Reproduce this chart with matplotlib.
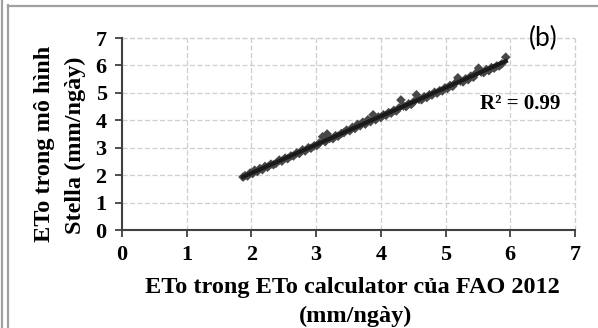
import matplotlib
matplotlib.use("Agg")
import matplotlib.pyplot as plt
from matplotlib.lines import Line2D
import numpy as np

# ETo values (mm/day)
eto_fao = [1.87, 1.90, 1.94, 1.98, 2.02, 2.05, 2.09, 2.13, 2.17, 2.21,
           2.25, 2.30, 2.34, 2.38, 2.43, 2.47, 2.52, 2.56, 2.61, 2.65,
           2.70, 2.74, 2.79, 2.83, 2.88, 2.92, 2.97, 3.01, 3.05, 3.10,
           3.14, 3.17, 3.21, 3.26, 3.30, 3.34, 3.39, 3.43, 3.47, 3.52,
           3.56, 3.60, 3.64, 3.68, 3.72, 3.76, 3.80, 3.84, 3.88, 3.92,
           3.96, 4.00, 4.04, 4.08, 4.12, 4.16, 4.20, 4.24, 4.28, 4.31,
           4.35, 4.39, 4.43, 4.47, 4.51, 4.55, 4.59, 4.63, 4.67, 4.71,
           4.75, 4.79, 4.83, 4.87, 4.91, 4.95, 4.99, 5.03, 5.07, 5.11,
           5.15, 5.19, 5.23, 5.27, 5.31, 5.35, 5.39, 5.43, 5.47, 5.51,
           5.55, 5.59, 5.63, 5.67, 5.71, 5.75, 5.79, 5.83, 5.87, 5.93]
eto_stella = [1.93, 1.98, 1.97, 2.08, 2.06, 2.18, 2.13, 2.24, 2.20, 2.32,
              2.29, 2.40, 2.38, 2.43, 2.55, 2.51, 2.62, 2.60, 2.70, 2.70,
              2.81, 2.79, 2.92, 2.88, 3.00, 2.98, 3.07, 3.08, 3.17, 3.40,
              3.22, 3.50, 3.34, 3.33, 3.44, 3.42, 3.52, 3.55, 3.64, 3.62,
              3.74, 3.70, 3.85, 3.80, 3.93, 3.86, 4.02, 3.95, 4.20, 4.02,
              4.12, 4.10, 4.20, 4.18, 4.28, 4.26, 4.36, 4.34, 4.45, 4.74,
              4.52, 4.50, 4.60, 4.58, 4.68, 4.93, 4.76, 4.75, 4.86, 4.83,
              4.93, 4.92, 5.02, 4.99, 5.08, 5.07, 5.18, 5.16, 5.27, 5.24,
              5.36, 5.55, 5.43, 5.40, 5.51, 5.48, 5.61, 5.57, 5.72, 5.90,
              5.76, 5.74, 5.85, 5.81, 5.92, 5.90, 5.98, 5.98, 6.06, 6.30]
r2_label = "R² = 0.99"
panel_label = "(b)"
xlabel_lines = ["ETo trong ETo calculator của FAO 2012", "(mm/ngày)"]
ylabel_lines = ["ETo trong mô hình", "Stella (mm/ngày)"]
ticks = [0, 1, 2, 3, 4, 5, 6, 7]

W, H = 598, 328
fig = plt.figure(figsize=(W / 100, H / 100), dpi=100)
ax = fig.add_axes([122 / W, 1 - 230 / H, (575 - 122) / W, (230 - 38) / H])

serif = dict(family="Liberation Serif", weight="bold")
dark = "#404040"

ax.scatter(eto_fao, eto_stella, marker="D", s=24, color="#484848",
           edgecolors="none", zorder=3)
x = np.array(eto_fao)
k, b = np.polyfit(x, np.array(eto_stella), 1)
xs = np.array([x.min(), x.max()])
ax.plot(xs, k * xs + b, color="#1a1a1a", lw=3, zorder=4)

ax.set_xlim(0, 7)
ax.set_ylim(0, 7)
ax.set_xticks(ticks)
ax.set_yticks(ticks)
ax.grid(True, color="#cfcfcf", ls=(0, (4, 2)), lw=0.9)
ax.set_axisbelow(True)
for s in ["top", "right"]:
    ax.spines[s].set_visible(False)
for s in ["left", "bottom"]:
    ax.spines[s].set_color(dark)
    ax.spines[s].set_linewidth(1.5)
ax.tick_params(length=5, width=1.3, color=dark, pad=6, labelsize=16)
for lab in ax.get_xticklabels() + ax.get_yticklabels():
    lab.set_fontfamily("Liberation Serif")
    lab.set_fontweight("bold")
# the 7 gridlines at the edge are dashed too
ax.axhline(7, color="#cfcfcf", ls=(0, (4, 2)), lw=0.9, clip_on=False)
ax.axvline(7, color="#cfcfcf", ls=(0, (4, 2)), lw=0.9, clip_on=False)

ax.text(6.15, 4.6, r2_label, fontsize=15, ha="center", va="center", **serif)

fig.text(543 / W, 1 - 38 / H, panel_label, fontsize=19, family="Lato",
         ha="center", va="center")

fig.text(352 / W, 1 - 287 / H, xlabel_lines[0], fontsize=17.5,
         ha="center", va="center", **serif)
fig.text(356 / W, 1 - 316 / H, xlabel_lines[1], fontsize=17.5,
         ha="center", va="center", **serif)
fig.text(45 / W, 1 - 144 / H, ylabel_lines[0], fontsize=17.5, rotation=90,
         ha="center", va="center", **serif)
fig.text(75 / W, 1 - 145 / H, ylabel_lines[1], fontsize=17.5, rotation=90,
         ha="center", va="center", **serif)

# outer frame lines
frame = "#a0a0a0"
fig.add_artist(Line2D([1.5 / W, 1.5 / W], [0, 1], color=frame, lw=1.6))
fig.add_artist(Line2D([7.5 / W, 7.5 / W], [0, 1 - 5 / H], color=frame, lw=1.6))
fig.add_artist(Line2D([7.5 / W, 1], [1 - 5.5 / H, 1 - 5.5 / H], color=frame, lw=1.6))

fig.savefig("out.png", dpi=100)
